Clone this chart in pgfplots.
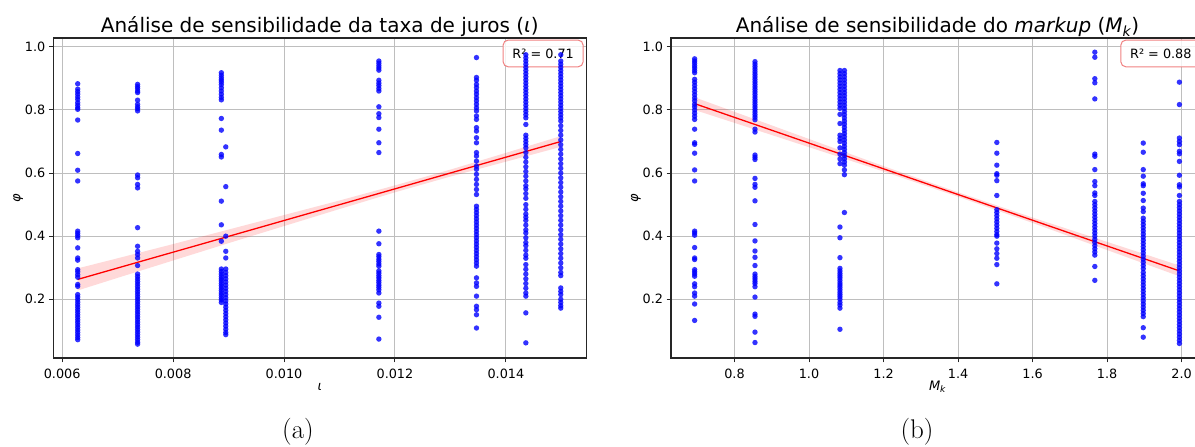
\documentclass[border=0pt]{standalone}
\usepackage{fontspec}
\setmainfont{Latin Modern Roman}
\newfontfamily\dv{DejaVu Sans}
\usepackage{pgfplots}
\pgfplotsset{compat=1.18}
\definecolor{ptblue}{RGB}{0,0,255}
\definecolor{gridgray}{RGB}{190,190,190}
\definecolor{boxred}{RGB}{240,130,130}
\pgfplotsset{
  myax/.style={
    scale only axis, width=533pt, height=320pt,
    anchor=south west,
    ymin=0.014, ymax=1.028,
    ytick={0.2,0.4,0.6,0.8,1.0},
    yticklabels={0.2,0.4,0.6,0.8,1.0},
    scaled ticks=false,
    grid=major, major grid style={gridgray, line width=1pt},
    axis line style={black!85, line width=1.1pt},
    tick align=outside, major tick length=4.5pt,
    tick style={black!85, line width=1pt},
    tick pos=left,
    xticklabel style={font=\dv\fontsize{12.8}{15}\selectfont, anchor=base, yshift=-16.5pt},
    yticklabel style={font=\dv\fontsize{12.8}{15}\selectfont, anchor=east},
    every axis x label/.style={at={(axis description cs:0.5,-0.09)}, anchor=center, font=\dv\fontsize{13}{15}\selectfont},
    every axis y label/.style={at={(axis description cs:-0.066,0.5)}, rotate=90, anchor=center, font=\dv\fontsize{13}{15}\selectfont},
    every axis title/.style={at={(axis description cs:0.5,1)}, anchor=base, yshift=5pt, font=\dv\fontsize{20}{24}\selectfont},
  },
  pts/.style={only marks, color=ptblue, mark=*, mark size=2.7pt, mark options={draw=none, draw opacity=0, fill=ptblue, fill opacity=0.8}},
  band/.style={draw=none, fill=red, fill opacity=0.15},
  rline/.style={red, line width=1.3pt},
}
\begin{document}
\begin{tikzpicture}[x=1pt,y=1pt]
\path[use as bounding box] (0,0) rectangle (1195,447);
% ---------------- left panel
\begin{axis}[myax, at={(53.3pt,89pt)},
  xmin=0.00584, xmax=0.01545,
  xtick={0.006,0.008,0.010,0.012,0.014},
  xticklabels={0.006,0.008,0.010,0.012,0.014},
  title={Análise de sensibilidade da taxa de juros ({\itshape ι})},
  xlabel={\itshape ι}, ylabel={\itshape φ}]
% column 1
\addplot[pts] coordinates {(0.00628,0.883)(0.00628,0.866)(0.00628,0.858)(0.00628,0.850)(0.00628,0.841)(0.00628,0.833)(0.00628,0.823)(0.00628,0.815)(0.00628,0.807)(0.00628,0.802)(0.00628,0.768)(0.00628,0.662)(0.00628,0.609)(0.00628,0.575)(0.00628,0.416)(0.00628,0.409)(0.00628,0.402)(0.00628,0.395)(0.00628,0.363)(0.00628,0.331)(0.00628,0.324)(0.00628,0.294)(0.00628,0.287)(0.00628,0.278)(0.00628,0.270)(0.00628,0.247)(0.00628,0.241)(0.00628,0.215)(0.00628,0.207)(0.00628,0.199)(0.00628,0.191)(0.00628,0.183)(0.00628,0.175)(0.00628,0.167)(0.00628,0.159)(0.00628,0.151)(0.00628,0.143)(0.00628,0.135)(0.00628,0.127)(0.00628,0.119)(0.00628,0.111)(0.00628,0.103)(0.00628,0.095)(0.00628,0.087)(0.00628,0.079)(0.00628,0.072)};
% column 2
\addplot[pts] coordinates {(0.00736,0.881)(0.00736,0.874)(0.00736,0.868)(0.00736,0.860)(0.00736,0.855)(0.00736,0.831)(0.00736,0.818)(0.00736,0.810)(0.00736,0.804)(0.00736,0.797)(0.00736,0.594)(0.00736,0.585)(0.00736,0.564)(0.00736,0.553)(0.00736,0.427)(0.00736,0.368)(0.00736,0.352)(0.00736,0.342)(0.00736,0.331)(0.00736,0.307)(0.00736,0.280)(0.00736,0.272)(0.00736,0.264)(0.00736,0.256)(0.00736,0.248)(0.00736,0.240)(0.00736,0.232)(0.00736,0.224)(0.00736,0.216)(0.00736,0.208)(0.00736,0.200)(0.00736,0.192)(0.00736,0.184)(0.00736,0.176)(0.00736,0.168)(0.00736,0.160)(0.00736,0.152)(0.00736,0.144)(0.00736,0.136)(0.00736,0.128)(0.00736,0.120)(0.00736,0.112)(0.00736,0.104)(0.00736,0.096)(0.00736,0.088)(0.00736,0.080)(0.00736,0.072)(0.00736,0.064)(0.00736,0.058)};
% column 3
\addplot[pts] coordinates {(0.00887,0.918)(0.00887,0.910)(0.00887,0.902)(0.00887,0.895)(0.00887,0.888)(0.00887,0.880)(0.00887,0.870)(0.00887,0.860)(0.00887,0.850)(0.00887,0.840)(0.00887,0.832)(0.00887,0.773)(0.00887,0.736)(0.00887,0.659)(0.00887,0.651)(0.00887,0.511)(0.00887,0.436)(0.00887,0.384)(0.00887,0.296)(0.00887,0.288)(0.00887,0.280)(0.00887,0.272)(0.00887,0.265)(0.00887,0.258)(0.00887,0.250)(0.00887,0.243)(0.00887,0.235)(0.00887,0.228)(0.00887,0.220)(0.00887,0.213)(0.00887,0.205)(0.00887,0.198)(0.00887,0.190)};
\addplot[pts] coordinates {(0.00895,0.683)(0.00895,0.557)(0.00895,0.400)(0.00895,0.352)(0.00895,0.331)(0.00895,0.296)(0.00895,0.285)(0.00895,0.275)(0.00895,0.265)(0.00895,0.255)(0.00895,0.245)(0.00895,0.235)(0.00895,0.225)(0.00895,0.215)(0.00895,0.205)(0.00895,0.195)(0.00895,0.185)(0.00895,0.175)(0.00895,0.165)(0.00895,0.155)(0.00895,0.145)(0.00895,0.135)(0.00895,0.125)(0.00895,0.115)(0.00895,0.105)(0.00895,0.095)(0.00895,0.088)};
% column 4
\addplot[pts] coordinates {(0.01171,0.955)(0.01171,0.948)(0.01171,0.940)(0.01171,0.933)(0.01171,0.926)(0.01171,0.894)(0.01171,0.885)(0.01171,0.877)(0.01171,0.868)(0.01171,0.860)(0.01171,0.810)(0.01171,0.788)(0.01171,0.776)(0.01171,0.739)(0.01171,0.696)(0.01171,0.665)(0.01171,0.416)(0.01171,0.376)(0.01171,0.342)(0.01171,0.335)(0.01171,0.327)(0.01171,0.320)(0.01171,0.312)(0.01171,0.305)(0.01171,0.290)(0.01171,0.283)(0.01171,0.275)(0.01171,0.268)(0.01171,0.260)(0.01171,0.253)(0.01171,0.245)(0.01171,0.238)(0.01171,0.230)(0.01171,0.220)(0.01171,0.188)(0.01171,0.178)(0.01171,0.143)(0.01171,0.074)};
% column 5
\addplot[pts] coordinates {(0.01347,0.966)(0.01347,0.903)(0.01347,0.894)(0.01347,0.881)(0.01347,0.871)(0.01347,0.860)(0.01347,0.850)(0.01347,0.839)(0.01347,0.829)(0.01347,0.818)(0.01347,0.807)(0.01347,0.797)(0.01347,0.781)(0.01347,0.770)(0.01347,0.744)(0.01347,0.733)(0.01347,0.712)(0.01347,0.696)(0.01347,0.665)(0.01347,0.654)(0.01347,0.638)(0.01347,0.622)(0.01347,0.612)(0.01347,0.596)(0.01347,0.580)(0.01347,0.564)(0.01347,0.548)(0.01347,0.532)(0.01347,0.495)(0.01347,0.485)(0.01347,0.475)(0.01347,0.465)(0.01347,0.455)(0.01347,0.445)(0.01347,0.435)(0.01347,0.425)(0.01347,0.415)(0.01347,0.405)(0.01347,0.395)(0.01347,0.385)(0.01347,0.375)(0.01347,0.365)(0.01347,0.355)(0.01347,0.345)(0.01347,0.335)(0.01347,0.325)(0.01347,0.315)(0.01347,0.305)(0.01347,0.268)(0.01347,0.252)(0.01347,0.241)(0.01347,0.210)(0.01347,0.178)(0.01347,0.167)(0.01347,0.151)(0.01347,0.109)};
% column 6
\addplot[pts] coordinates {(0.01436,0.975)(0.01436,0.965)(0.01436,0.955)(0.01436,0.945)(0.01436,0.935)(0.01436,0.925)(0.01436,0.915)(0.01436,0.905)(0.01436,0.895)(0.01436,0.885)(0.01436,0.875)(0.01436,0.865)(0.01436,0.855)(0.01436,0.845)(0.01436,0.835)(0.01436,0.825)(0.01436,0.815)(0.01436,0.805)(0.01436,0.795)(0.01436,0.785)(0.01436,0.775)(0.01436,0.754)(0.01436,0.720)(0.01436,0.710)(0.01436,0.700)(0.01436,0.690)(0.01436,0.680)(0.01436,0.665)(0.01436,0.650)(0.01436,0.635)(0.01436,0.620)(0.01436,0.605)(0.01436,0.590)(0.01436,0.575)(0.01436,0.560)(0.01436,0.550)(0.01436,0.535)(0.01436,0.520)(0.01436,0.500)(0.01436,0.485)(0.01436,0.470)(0.01436,0.460)(0.01436,0.450)(0.01436,0.435)(0.01436,0.420)(0.01436,0.410)(0.01436,0.395)(0.01436,0.380)(0.01436,0.370)(0.01436,0.355)(0.01436,0.340)(0.01436,0.330)(0.01436,0.310)(0.01436,0.295)(0.01436,0.280)(0.01436,0.265)(0.01436,0.250)(0.01436,0.235)(0.01436,0.220)(0.01436,0.210)(0.01436,0.157)(0.01436,0.062)};
% column 7
\addplot[pts] coordinates {(0.01499,0.975)(0.01499,0.955)(0.01499,0.945)(0.01499,0.935)(0.01499,0.925)(0.01499,0.915)(0.01499,0.905)(0.01499,0.895)(0.01499,0.885)(0.01499,0.875)(0.01499,0.865)(0.01499,0.855)(0.01499,0.845)(0.01499,0.835)(0.01499,0.825)(0.01499,0.815)(0.01499,0.805)(0.01499,0.795)(0.01499,0.785)(0.01499,0.775)(0.01499,0.765)(0.01499,0.750)(0.01499,0.735)(0.01499,0.720)(0.01499,0.705)(0.01499,0.690)(0.01499,0.675)(0.01499,0.660)(0.01499,0.645)(0.01499,0.630)(0.01499,0.615)(0.01499,0.600)(0.01499,0.585)(0.01499,0.570)(0.01499,0.555)(0.01499,0.540)(0.01499,0.525)(0.01499,0.510)(0.01499,0.495)(0.01499,0.480)(0.01499,0.465)(0.01499,0.450)(0.01499,0.435)(0.01499,0.420)(0.01499,0.405)(0.01499,0.390)(0.01499,0.375)(0.01499,0.360)(0.01499,0.345)(0.01499,0.330)(0.01499,0.315)(0.01499,0.300)(0.01499,0.285)(0.01499,0.275)(0.01499,0.236)(0.01499,0.225)(0.01499,0.215)(0.01499,0.200)(0.01499,0.190)(0.01499,0.180)(0.01499,0.172)};
% confidence band and fit
\addplot[band] coordinates {(0.00628,0.298)(0.007,0.330)(0.008,0.375)(0.009,0.421)(0.010,0.467)(0.011,0.513)(0.012,0.561)(0.013,0.611)(0.014,0.664)(0.01499,0.717)(0.01499,0.683)(0.014,0.636)(0.013,0.589)(0.012,0.539)(0.011,0.486)(0.010,0.432)(0.009,0.378)(0.008,0.323)(0.007,0.268)(0.00628,0.228)} -- cycle;
\addplot[rline] coordinates {(0.00628,0.263)(0.01499,0.700)};
\node[draw=boxred, line width=1pt, fill=white, fill opacity=0.8, text opacity=1, rounded corners=5pt, inner sep=0pt, minimum width=80pt, minimum height=26.7pt, anchor=north east, font=\dv\fontsize{12.8}{15}\selectfont] at (rel axis cs:0.995,0.995) {R² = 0.71};
\end{axis}
% ---------------- right panel
\begin{axis}[myax, at={(671pt,89pt)},
  xmin=0.6296, xmax=2.060,
  xtick={0.8,1.0,1.2,1.4,1.6,1.8,2.0},
  xticklabels={0.8,1.0,1.2,1.4,1.6,1.8,2.0},
  title={Análise de sensibilidade do {\itshape markup} ({\itshape M\textsubscript{k}})},
  xlabel={\itshape M\textsubscript{k}}, ylabel={\itshape φ}]
% column R1
\addplot[pts] coordinates {(0.693,0.962)(0.693,0.955)(0.693,0.948)(0.693,0.940)(0.693,0.933)(0.693,0.925)(0.693,0.918)(0.693,0.897)(0.693,0.888)(0.693,0.878)(0.693,0.868)(0.693,0.858)(0.693,0.848)(0.693,0.838)(0.693,0.829)(0.693,0.818)(0.693,0.810)(0.693,0.800)(0.693,0.790)(0.693,0.780)(0.693,0.770)(0.693,0.739)(0.693,0.696)(0.693,0.691)(0.693,0.663)(0.693,0.610)(0.693,0.575)(0.693,0.416)(0.693,0.410)(0.693,0.403)(0.693,0.364)(0.693,0.331)(0.693,0.326)(0.693,0.294)(0.693,0.287)(0.693,0.280)(0.693,0.273)(0.693,0.249)(0.693,0.240)(0.693,0.220)(0.693,0.210)(0.693,0.185)(0.693,0.133)};
% column R2
\addplot[pts] coordinates {(0.855,0.953)(0.855,0.945)(0.855,0.937)(0.855,0.929)(0.855,0.921)(0.855,0.913)(0.855,0.905)(0.855,0.897)(0.855,0.889)(0.855,0.881)(0.855,0.873)(0.855,0.865)(0.855,0.857)(0.855,0.849)(0.855,0.841)(0.855,0.833)(0.855,0.825)(0.855,0.817)(0.855,0.809)(0.855,0.801)(0.855,0.793)(0.855,0.785)(0.855,0.777)(0.855,0.769)(0.855,0.739)(0.855,0.730)(0.855,0.657)(0.855,0.650)(0.855,0.643)(0.855,0.583)(0.855,0.564)(0.855,0.555)(0.855,0.512)(0.855,0.437)(0.855,0.385)(0.855,0.353)(0.855,0.333)(0.855,0.307)(0.855,0.280)(0.855,0.272)(0.855,0.265)(0.855,0.257)(0.855,0.250)(0.855,0.240)(0.855,0.207)(0.855,0.153)(0.855,0.146)(0.855,0.096)(0.855,0.063)};
% column R3
\addplot[pts] coordinates {(1.083,0.925)(1.083,0.915)(1.083,0.905)(1.083,0.895)(1.083,0.885)(1.083,0.875)(1.083,0.865)(1.083,0.855)(1.083,0.845)(1.083,0.835)(1.083,0.825)(1.083,0.815)(1.083,0.805)(1.083,0.786)(1.083,0.757)(1.083,0.720)(1.083,0.710)(1.083,0.700)(1.083,0.680)(1.083,0.660)(1.083,0.645)(1.083,0.630)(1.083,0.429)(1.083,0.395)(1.083,0.332)(1.083,0.298)(1.083,0.290)(1.083,0.282)(1.083,0.275)(1.083,0.268)(1.083,0.260)(1.083,0.252)(1.083,0.245)(1.083,0.238)(1.083,0.230)(1.083,0.222)(1.083,0.215)(1.083,0.208)(1.083,0.200)(1.083,0.190)(1.083,0.182)(1.083,0.172)(1.083,0.105)};
\addplot[pts] coordinates {(1.095,0.925)(1.095,0.915)(1.095,0.905)(1.095,0.895)(1.095,0.885)(1.095,0.875)(1.095,0.865)(1.095,0.855)(1.095,0.845)(1.095,0.835)(1.095,0.825)(1.095,0.815)(1.095,0.805)(1.095,0.795)(1.095,0.785)(1.095,0.775)(1.095,0.765)(1.095,0.755)(1.095,0.745)(1.095,0.735)(1.095,0.725)(1.095,0.715)(1.095,0.705)(1.095,0.695)(1.095,0.685)(1.095,0.675)(1.095,0.665)(1.095,0.655)(1.095,0.645)(1.095,0.635)(1.095,0.625)(1.095,0.610)(1.095,0.595)(1.095,0.475)};
% column R4
\addplot[pts] coordinates {(1.504,0.697)(1.504,0.663)(1.504,0.625)(1.504,0.598)(1.504,0.593)(1.504,0.576)(1.504,0.529)(1.504,0.484)(1.504,0.475)(1.504,0.465)(1.504,0.455)(1.504,0.445)(1.504,0.435)(1.504,0.425)(1.504,0.415)(1.504,0.405)(1.504,0.400)(1.504,0.378)(1.504,0.360)(1.504,0.345)(1.504,0.330)(1.504,0.310)(1.504,0.249)};
% column R5
\addplot[pts] coordinates {(1.767,0.983)(1.767,0.967)(1.767,0.899)(1.767,0.886)(1.767,0.835)(1.767,0.660)(1.767,0.653)(1.767,0.611)(1.767,0.573)(1.767,0.560)(1.767,0.537)(1.767,0.529)(1.767,0.510)(1.767,0.500)(1.767,0.490)(1.767,0.480)(1.767,0.470)(1.767,0.460)(1.767,0.450)(1.767,0.440)(1.767,0.430)(1.767,0.420)(1.767,0.410)(1.767,0.400)(1.767,0.390)(1.767,0.380)(1.767,0.370)(1.767,0.360)(1.767,0.350)(1.767,0.340)(1.767,0.304)(1.767,0.260)};
% column R6
\addplot[pts] coordinates {(1.897,0.695)(1.897,0.666)(1.897,0.611)(1.897,0.590)(1.897,0.566)(1.897,0.560)(1.897,0.536)(1.897,0.513)(1.897,0.489)(1.897,0.478)(1.897,0.457)(1.897,0.447)(1.897,0.437)(1.897,0.427)(1.897,0.417)(1.897,0.407)(1.897,0.397)(1.897,0.387)(1.897,0.377)(1.897,0.367)(1.897,0.357)(1.897,0.347)(1.897,0.337)(1.897,0.327)(1.897,0.317)(1.897,0.307)(1.897,0.297)(1.897,0.285)(1.897,0.275)(1.897,0.265)(1.897,0.255)(1.897,0.245)(1.897,0.235)(1.897,0.225)(1.897,0.215)(1.897,0.205)(1.897,0.195)(1.897,0.185)(1.897,0.175)(1.897,0.165)(1.897,0.155)(1.897,0.145)(1.897,0.110)(1.897,0.080)};
% column R7
\addplot[pts] coordinates {(1.994,0.888)(1.994,0.817)(1.994,0.711)(1.994,0.700)(1.994,0.690)(1.994,0.669)(1.994,0.661)(1.994,0.637)(1.994,0.593)(1.994,0.563)(1.994,0.556)(1.994,0.529)(1.994,0.510)(1.994,0.500)(1.994,0.490)(1.994,0.480)(1.994,0.470)(1.994,0.460)(1.994,0.450)(1.994,0.440)(1.994,0.430)(1.994,0.420)(1.994,0.410)(1.994,0.400)(1.994,0.390)(1.994,0.380)(1.994,0.370)(1.994,0.360)(1.994,0.350)(1.994,0.340)(1.994,0.330)(1.994,0.320)(1.994,0.310)(1.994,0.300)(1.994,0.290)(1.994,0.280)(1.994,0.270)(1.994,0.260)(1.994,0.250)(1.994,0.240)(1.994,0.230)(1.994,0.220)(1.994,0.210)(1.994,0.200)(1.994,0.190)(1.994,0.180)(1.994,0.170)(1.994,0.160)(1.994,0.150)(1.994,0.140)(1.994,0.130)(1.994,0.120)(1.994,0.110)(1.994,0.100)(1.994,0.090)(1.994,0.080)(1.994,0.070)(1.994,0.060)};
% band and fit
\addplot[band] coordinates {(0.693,0.840)(0.8,0.794)(1.0,0.708)(1.2,0.622)(1.4,0.539)(1.6,0.459)(1.8,0.382)(1.994,0.307)(1.994,0.273)(1.8,0.356)(1.6,0.442)(1.4,0.525)(1.2,0.605)(1.0,0.682)(0.8,0.759)(0.693,0.800)} -- cycle;
\addplot[rline] coordinates {(0.693,0.820)(1.994,0.290)};
\node[draw=boxred, line width=1pt, fill=white, fill opacity=0.8, text opacity=1, rounded corners=5pt, inner sep=0pt, minimum width=80pt, minimum height=26.7pt, anchor=north east, font=\dv\fontsize{12.8}{15}\selectfont] at (rel axis cs:0.995,0.995) {R² = 0.88};
\end{axis}
\node[font=\fontsize{27}{30}\selectfont] at (298,15) {(a)};
\node[font=\fontsize{27}{30}\selectfont] at (917,15) {(b)};
\end{tikzpicture}
\end{document}
